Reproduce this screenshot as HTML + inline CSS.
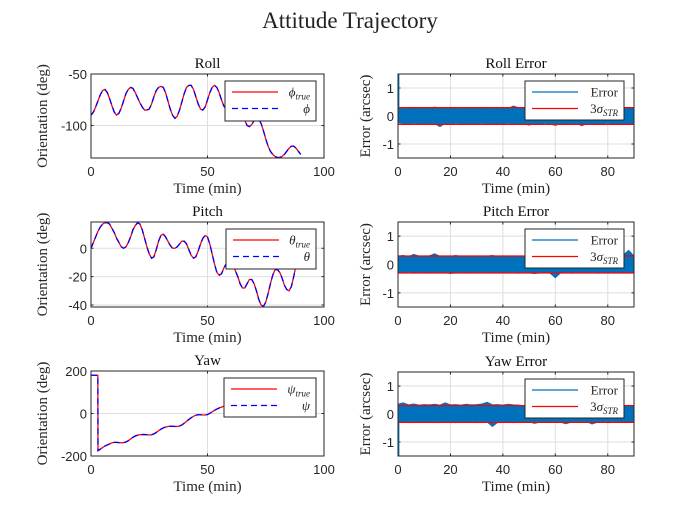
<!DOCTYPE html>
<html><head><meta charset="utf-8"><style>
body{margin:0;background:#fff;width:700px;height:525px;overflow:hidden}
svg{display:block}
.serif{font-family:"Liberation Serif",serif}
.sans{font-family:"Liberation Sans",sans-serif}
</style></head><body>
<svg id="fig" width="700" height="525" viewBox="0 0 700 525" xmlns="http://www.w3.org/2000/svg">
<rect width="700" height="525" fill="#fff"/>
<text x="350" y="28" text-anchor="middle" class="serif" font-size="23" fill="#222">Attitude Trajectory</text>
</svg>
<script>
const tMin = Array.from({length:91},(_, i)=>i);
const rollTrue = [-90,-87,-82,-76,-70,-66,-65,-68,-74,-81,-87,-90,-88,-83,-76,-69,-65,-63,-64,-68,-73,-78,-82,-85,-85,-84,-79,-72,-66,-63,-62,-63,-68,-76,-84,-90,-93,-91,-85,-77,-69,-63,-61,-61,-65,-72,-79,-84,-85,-82,-75,-68,-63,-61,-63,-68,-75,-81,-84,-85,-84,-82,-80,-80,-83,-88,-95,-100,-101,-99,-95,-93,-94,-98,-105,-113,-120,-125,-128,-130,-131,-131,-130,-128,-125,-122,-120,-120,-122,-125,-128];
const pitchTrue = [0,4,8,12,15,17,18,18,17,14,11,7,4,1,0,1,4,8,13,16,18,17,13,7,1,-4,-7,-6,-1,5,9,10,8,5,2,0,0,1,3,5,5,3,-1,-5,-7,-6,-2,3,7,9,8,3,-4,-11,-17,-19,-18,-14,-11,-10,-10,-12,-16,-20,-25,-28,-28,-25,-22,-22,-25,-30,-36,-40,-41,-38,-32,-25,-19,-15,-15,-17,-21,-26,-29,-30,-27,-20,-12,-5,0];
const yawTime = [0,1,2,2.95].concat(Array.from({length:88},(_, i)=>i+3));
const yawTrue = [180,180,180,180,-175,-168,-160,-153,-148,-143,-138,-136,-136,-137,-138,-137,-134,-128,-120,-112,-106,-102,-100,-99,-99,-100,-101,-100,-96,-89,-81,-74,-68,-64,-61,-60,-60,-61,-61,-59,-54,-46,-37,-28,-20,-13,-8,-6,-6,-7,-7,-5,1,8,15,21,26,30,34,38,42,45,48,52,58,64,70,74,76,77,78,80,85,92,99,105,108,110,110,111,114,120,127,133,137,139,140,141,144,150,156,162];
const errTime = Array.from({length:46},(_, i)=>i*2);
const rollErrHi = [0.3,0.3,0.28,0.31,0.27,0.3,0.29,0.32,0.28,0.3,0.27,0.31,0.29,0.28,0.3,0.27,0.29,0.31,0.28,0.3,0.29,0.27,0.36,0.3,0.28,0.31,0.29,0.27,0.3,0.28,0.31,0.29,0.27,0.3,0.28,0.3,0.29,0.31,0.27,0.3,0.28,0.31,0.29,0.28,0.3,0.29];
const rollErrLo = [-0.25,-0.27,-0.3,-0.26,-0.29,-0.27,-0.31,-0.28,-0.38,-0.27,-0.3,-0.26,-0.29,-0.28,-0.27,-0.3,-0.26,-0.29,-0.28,-0.27,-0.3,-0.26,-0.29,-0.27,-0.28,-0.33,-0.27,-0.3,-0.26,-0.29,-0.34,-0.28,-0.27,-0.3,-0.26,-0.35,-0.28,-0.3,-0.27,-0.29,-0.26,-0.3,-0.28,-0.27,-0.29,-0.28];
const rollErrSpike = [1.5];
const pitchErrHi = [0.3,0.32,0.28,0.36,0.3,0.29,0.31,0.38,0.29,0.3,0.28,0.32,0.29,0.3,0.28,0.31,0.29,0.3,0.32,0.28,0.3,0.29,0.31,0.28,0.3,0.29,0.28,0.3,0.29,0.27,0.28,0.29,0.3,0.27,0.28,0.29,0.3,0.28,0.27,0.29,0.28,0.3,0.29,0.35,0.5,0.3];
const pitchErrLo = [-0.28,-0.3,-0.26,-0.29,-0.3,-0.28,-0.31,-0.29,-0.3,-0.28,-0.32,-0.29,-0.3,-0.28,-0.31,-0.29,-0.3,-0.28,-0.31,-0.29,-0.3,-0.28,-0.3,-0.31,-0.29,-0.3,-0.32,-0.3,-0.29,-0.31,-0.47,-0.3,-0.29,-0.31,-0.3,-0.28,-0.3,-0.29,-0.31,-0.3,-0.28,-0.3,-0.29,-0.31,-0.3,-0.29];
const pitchErrSpike = [0.3];
const yawErrHi = [0.35,0.4,0.33,0.36,0.32,0.34,0.33,0.35,0.32,0.4,0.33,0.34,0.32,0.35,0.33,0.34,0.36,0.42,0.33,0.34,0.32,0.35,0.33,0.32,0.3,0.31,0.3,0.29,0.3,0.31,0.29,0.3,0.28,0.29,0.3,0.28,0.29,0.3,0.28,0.3,0.29,0.31,0.28,0.3,0.29,0.3];
const yawErrLo = [-0.3,-0.3,-0.29,-0.31,-0.28,-0.3,-0.29,-0.31,-0.3,-0.28,-0.3,-0.31,-0.29,-0.3,-0.28,-0.31,-0.3,-0.29,-0.45,-0.3,-0.28,-0.3,-0.31,-0.29,-0.3,-0.28,-0.34,-0.3,-0.29,-0.3,-0.28,-0.3,-0.35,-0.3,-0.29,-0.31,-0.28,-0.36,-0.3,-0.29,-0.31,-0.3,-0.28,-0.3,-0.29,-0.3];
const yawErrSpike = [-1.5];
const sigmaBound = [0.3, -0.3];
const leftXTicks = [0,50,100];
const rightXTicks = [0,20,40,60,80];
const rollYTicks = [-100,-50];
const pitchYTicks = [-40,-20,0];
const yawYTicks = [-200,0,200];
const errYTicks = [-1,0,1];

const NS = "http://www.w3.org/2000/svg";
const svg = document.getElementById('fig');
function el(tag, attrs, parent){const e=document.createElementNS(NS,tag);for(const k in attrs)e.setAttribute(k,attrs[k]);(parent||svg).appendChild(e);return e;}

function makeAxes(name, x0,x1,y0,y1,xmin,xmax,ymin,ymax,xticks,yticks,title,ylabel){
  const g=el('g',{});
  
  
  const sx=v=>x0+(v-xmin)/(xmax-xmin)*(x1-x0);
  const sy=v=>y1-(v-ymin)/(ymax-ymin)*(y1-y0);
  el('rect',{x:x0,y:y0,width:x1-x0,height:y1-y0,fill:'#fff'},g);
  xticks.forEach(v=>{
    const X=sx(v);
    if(X>x0+1&&X<x1-1){const l=el('line',{x1:X,x2:X,y1:y0,y2:y1,stroke:'#dedede','stroke-width':1},g);
      
      }
    el('line',{x1:X,x2:X,y1:y1,y2:y1-2.5,stroke:'#262626'},g);
    el('line',{x1:X,x2:X,y1:y0,y2:y0+2.5,stroke:'#262626'},g);
    const t=el('text',{x:X,y:y1+18,'text-anchor':'middle','font-size':13,fill:'#262626',class:'sans'},g);
    t.textContent=v;
    
    
  });
  yticks.forEach(v=>{
    const Y=sy(v);
    if(Y>y0+1&&Y<y1-1){const l=el('line',{x1:x0,x2:x1,y1:Y,y2:Y,stroke:'#dedede','stroke-width':1},g);
      
      }
    el('line',{x1:x0,x2:x0+2.5,y1:Y,y2:Y,stroke:'#262626'},g);
    el('line',{x1:x1,x2:x1-2.5,y1:Y,y2:Y,stroke:'#262626'},g);
    const t=el('text',{x:x0-4,y:Y+5,'text-anchor':'end','font-size':13,fill:'#262626',class:'sans'},g);
    t.textContent=v;
    
    
  });
  const clipId='clip-'+name;
  const cp=el('clipPath',{id:clipId},g); el('rect',{x:x0,y:y0,width:x1-x0,height:y1-y0},cp);
  const plot=el('g',{'clip-path':'url(#'+clipId+')'},g);
  const tt=el('text',{x:(x0+x1)/2,y:y0-6,'text-anchor':'middle','font-size':15,fill:'#111',class:'serif'},g);
  tt.textContent=title;
  
  
  const xl=el('text',{x:(x0+x1)/2,y:y1+35,'text-anchor':'middle','font-size':15,fill:'#262626',class:'serif'},g);
  xl.textContent='Time (min)';
  
  
  const yx=x0-(name.indexOf('error')>=0?28:44), yy=(y0+y1)/2;
  const yl=el('text',{x:yx,y:yy,'text-anchor':'middle','font-size':15,fill:'#262626',class:'serif',transform:`rotate(-90 ${yx} ${yy})`},g);
  yl.textContent=ylabel;
  
  
  return {g,plot,sx,sy,x0,x1,y0,y1};
}
function finish(ax){el('rect',{x:ax.x0,y:ax.y0,width:ax.x1-ax.x0,height:ax.y1-ax.y0,fill:'none',stroke:'#262626','stroke-width':1},ax.g);}
function line(ax,xs,ys,color,dash,name){
  const d=xs.map((x,i)=>(i?'L':'M')+ax.sx(x).toFixed(2)+' '+ax.sy(ys[i]).toFixed(2)).join(' ');
  const p=el('path',{d,fill:'none',stroke:color,'stroke-width':1.3},ax.plot);
  if(dash)p.setAttribute('stroke-dasharray',dash);
  
  
}
function legend(ax,lx,ly,w,h,entries,name){
  const g=el('g',{},ax.g);
  
  
  el('rect',{x:lx,y:ly,width:w,height:h,fill:'#fff',stroke:'#262626','stroke-width':1},g);
  entries.forEach((e,i)=>{
    const Y=ly+11+i*16.5;
    const l=el('line',{x1:lx+7,x2:lx+53,y1:Y,y2:Y,stroke:e.c,'stroke-width':1.3},g);
    if(e.dash)l.setAttribute('stroke-dasharray',e.dash);
    const t=el('text',{x:lx+w-6,y:Y+4.5,'text-anchor':'end','font-size':13,fill:'#262626',class:'serif'},g);
    t.innerHTML=e.label;
    
    
  });
}
const L=[91,324];
const roll=makeAxes('roll',L[0],L[1],74,158,0,100,-131.5,-50,leftXTicks,rollYTicks,'Roll','Orientation (deg)');
line(roll,tMin,rollTrue,'#ff0000',null,'roll-true-line');
line(roll,tMin,rollTrue,'#0000ff','6 4','roll-estimate-line');
finish(roll);
legend(roll,225,81,91,40,[{c:'#ff0000',label:'<tspan font-style="italic">ϕ</tspan><tspan font-size="9" font-style="italic" dy="3">true</tspan>'},{c:'#0000ff',dash:'6 4',label:'<tspan font-style="italic">ϕ</tspan>'}],'roll-legend');

const pitch=makeAxes('pitch',L[0],L[1],222,307,0,100,-41.4,18.5,leftXTicks,pitchYTicks,'Pitch','Orientation (deg)');
line(pitch,tMin,pitchTrue,'#ff0000',null,'pitch-true-line');
line(pitch,tMin,pitchTrue,'#0000ff','6 4','pitch-estimate-line');
finish(pitch);
legend(pitch,226,229,90,40,[{c:'#ff0000',label:'<tspan font-style="italic">θ</tspan><tspan font-size="9" font-style="italic" dy="3">true</tspan>'},{c:'#0000ff',dash:'6 4',label:'<tspan font-style="italic">θ</tspan>'}],'pitch-legend');

const yaw=makeAxes('yaw',L[0],L[1],371,456,0,100,-200,200,leftXTicks,yawYTicks,'Yaw','Orientation (deg)');
line(yaw,yawTime,yawTrue,'#ff0000',null,'yaw-true-line');
line(yaw,yawTime,yawTrue,'#0000ff','6 4','yaw-estimate-line');
finish(yaw);
legend(yaw,224,378,92,39,[{c:'#ff0000',label:'<tspan font-style="italic">ψ</tspan><tspan font-size="9" font-style="italic" dy="3">true</tspan>'},{c:'#0000ff',dash:'6 4',label:'<tspan font-style="italic">ψ</tspan>'}],'yaw-legend');

const R=[398,634];
function errPlot(name,y0,y1,title,hi,lo,spike){
  const ax=makeAxes(name,R[0],R[1],y0,y1,0,90,-1.5,1.5,rightXTicks,errYTicks,title,'Error (arcsec)');
  const pts=errTime.map((t,i)=>ax.sx(t).toFixed(2)+','+ax.sy(hi[i]).toFixed(2));
  const pts2=errTime.map((t,i)=>ax.sx(t).toFixed(2)+','+ax.sy(lo[i]).toFixed(2)).reverse();
  const band=el('polygon',{points:pts.concat(pts2).join(' '),fill:'#0072bd',stroke:'#0072bd','stroke-width':0.8},ax.plot);
  
  
  errTime.forEach((t,i)=>{
    const s=el('line',{x1:ax.sx(t),x2:ax.sx(t),y1:ax.sy(hi[i]),y2:ax.sy(lo[i]),stroke:'#0072bd','stroke-width':1},ax.plot);
    
    
  });
  spike.forEach(v=>{
    const s=el('line',{x1:ax.sx(0)+0.8,x2:ax.sx(0)+0.8,y1:ax.sy(0),y2:ax.sy(v),stroke:'#0072bd','stroke-width':1.2},ax.plot);
    
    
  });
  sigmaBound.forEach(b=>{
    const l=el('line',{x1:ax.sx(0),x2:ax.sx(90),y1:ax.sy(b),y2:ax.sy(b),stroke:'#ff0000','stroke-width':1.3},ax.plot);
    
    
  });
  finish(ax);
  legend(ax,525,y0+7,99,39,[{c:'#0072bd',label:'Error'},{c:'#ff0000',label:'3<tspan font-style="italic">σ</tspan><tspan font-size="9" font-style="italic" dy="3">STR</tspan>'}],name+'-legend');
}
errPlot('roll-error',74,158,'Roll Error',rollErrHi,rollErrLo,rollErrSpike);
errPlot('pitch-error',222,307,'Pitch Error',pitchErrHi,pitchErrLo,pitchErrSpike);
errPlot('yaw-error',372,456,'Yaw Error',yawErrHi,yawErrLo,yawErrSpike);
</script>
</body></html>
